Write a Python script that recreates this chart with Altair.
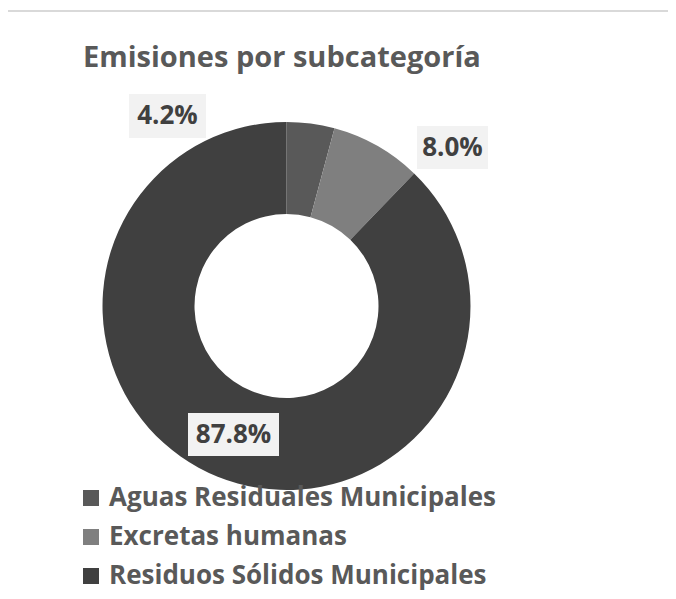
import altair as alt
import pandas as pd

# ---- data ----
categories = ["Aguas Residuales Municipales", "Excretas humanas", "Residuos Sólidos Municipales"]
shares = [4.2, 8.0, 87.8]
colors = ["#595959", "#7f7f7f", "#404040"]
title_text = "Emisiones por subcategoría"

# ---- layout (pixels in chart coordinates) ----
CX, CY = 278.5, 298
R_OUT, R_IN = 184, 92
label_boxes = {  # x0, x1, y0, y1 of each data-label box
    "Aguas Residuales Municipales": (121, 198, 86, 130),
    "Excretas humanas": (409, 480, 118, 161),
    "Residuos Sólidos Municipales": (180, 271, 405, 448),
}
FONT = "Open Sans"

df = pd.DataFrame({"cat": categories, "share": shares, "idx": list(range(len(categories)))})

lab = pd.DataFrame({
    "cat": categories,
    "label": [f"{v:.1f}%" for v in shares],
    "x0": [label_boxes[c][0] for c in categories],
    "x1": [label_boxes[c][1] for c in categories],
    "y0": [label_boxes[c][2] for c in categories],
    "y1": [label_boxes[c][3] for c in categories],
})
lab["xm"] = (lab["x0"] + lab["x1"]) / 2
lab["ym"] = (lab["y0"] + lab["y1"]) / 2

color_scale = alt.Scale(domain=categories, range=colors)

donut = alt.Chart(df).mark_arc(outerRadius=R_OUT, innerRadius=R_IN, stroke=None).encode(
    theta=alt.Theta("share:Q", stack=True),
    order=alt.Order("idx:Q"),
    color=alt.Color(
        "cat:N", scale=color_scale, sort=categories,
        legend=alt.Legend(
            title=None, orient="none", legendX=70, legendY=477, direction="vertical",
            symbolType="square", symbolSize=256, symbolStrokeWidth=0,
            labelFont=FONT, labelFontSize=26, labelFontWeight="bold", labelColor="#595959",
            labelOffset=5, rowPadding=13, labelLimit=600,
        ),
    ),
    x=alt.value(CX), y=alt.value(CY),
)

boxes = alt.Chart(lab).mark_rect(color="#f2f2f2").encode(
    x=alt.X("x0:Q", scale=None), x2="x1:Q",
    y=alt.Y("y0:Q", scale=None), y2="y1:Q",
)

texts = alt.Chart(lab).mark_text(
    font=FONT, fontSize=26, fontWeight="bold", color="#404040", align="center", baseline="middle"
).encode(
    x=alt.X("xm:Q", scale=None), y=alt.Y("ym:Q", scale=None), text="label:N"
)

title = alt.Chart(pd.DataFrame({"t": [title_text]})).mark_text(
    font=FONT, fontSize=29, fontWeight="bold", color="#595959", align="left", baseline="alphabetic"
).encode(x=alt.value(75), y=alt.value(59), text="t:N")

topline = alt.Chart(pd.DataFrame({"a": [0]})).mark_rule(color="#d9d9d9", strokeWidth=2).encode(
    x=alt.value(-1), x2=alt.value(668), y=alt.value(3)
)

chart = alt.layer(topline, title, donut, boxes, texts).properties(
    width=660, height=583,
    autosize=alt.AutoSizeParams(type="none"),
    padding=0,
).configure_view(stroke=None).resolve_scale(x="independent", y="independent")

chart.save("out.html", embed_options={"renderer": "svg", "actions": False})
